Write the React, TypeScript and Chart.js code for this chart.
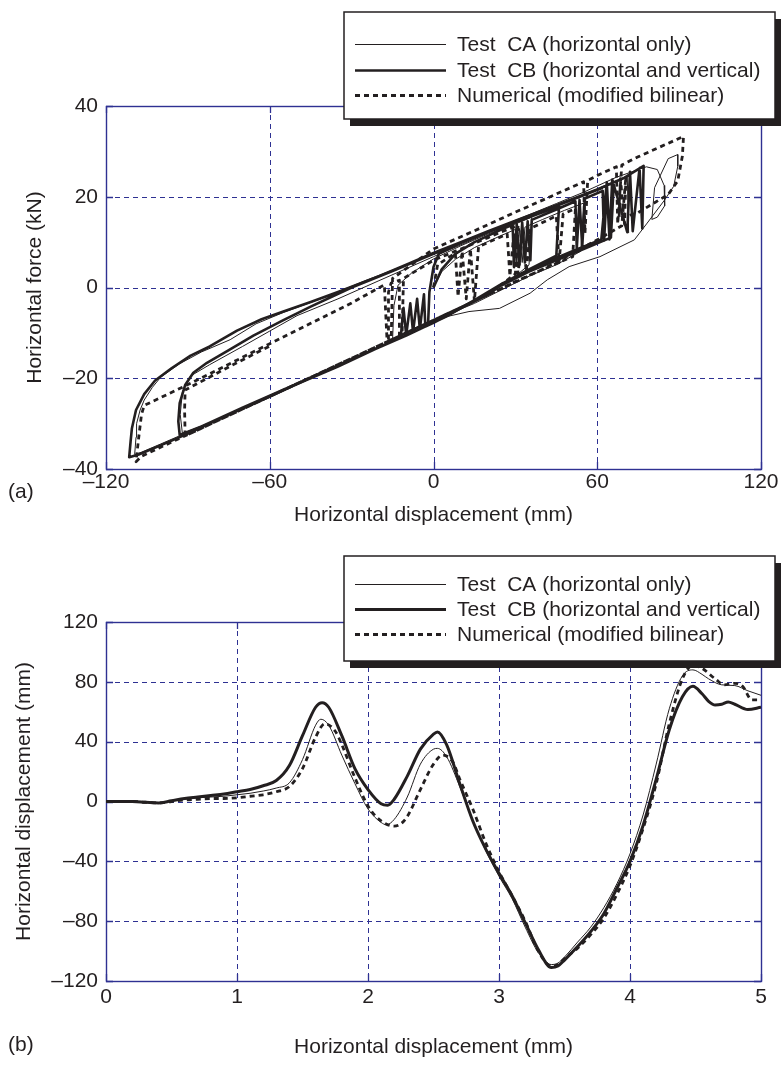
import React, { useEffect, useRef } from 'react';
import { Chart, registerables } from 'chart.js';

Chart.register(...registerables);

const FONT_FAMILY = '"Liberation Sans", Arial, Helvetica, sans-serif';
const INK = '#231f20';
const GRID_BLUE = '#2e3192';

const seriesLabels = [
  'Test  CA (horizontal only)',
  'Test  CB (horizontal and vertical)',
  'Numerical (modified bilinear)',
];

// ---------- Panel (a): force vs displacement ----------
const hystXTicks = [-120, -60, 0, 60, 120];
const hystYTicks = [-40, -20, 0, 20, 40];
const hystXTitle = 'Horizontal displacement (mm)';
const hystYTitle = 'Horizontal force (kN)';

const caHystPath: [number, number][] = [
  [0, 0], [3, 3.5], [8, 6.2], [15, 8.8], [25, 11.5], [30, 12.8], [30.5, 5], [31.5, 13], [32.5, 5.5], [33.5, 13.3],
  [40, 15], [48, 17], [55, 18.6],
  [54, 8], [45, 5], [35, 2.5], [25, -0.5], [15, -3.5], [5, -6], [-5, -9], [-12, -11], [-15, -11.6],
  [-14.5, -4], [-13, 0.5], [-8, 3.2], [0, 6.3], [10, 9.2], [20, 11.8], [30, 14], [36, 15.5],
  [35, 5], [30, 2.5], [20, -1.5], [10, -4.8], [0, -7.8], [-10, -10.5], [-25, -14.5], [-40, -18.7], [-55, -22.8],
  [-70, -26.8], [-85, -30.6], [-100, -34.5], [-107, -36.3], [-109.5, -36.8],
  [-109, -33], [-108.8, -30], [-107.5, -27], [-106, -24.8], [-103, -22], [-100, -19.8], [-93, -16.8], [-85, -14.2],
  [-74.5, -11.5], [-65, -8], [-55, -5.5], [-40, -2.2], [-25, 1.5], [-10, 5], [0, 7.5], [15, 11], [30, 14.8],
  [45, 18.5], [55, 21], [67, 24.3], [78, 26.6], [82, 26], [84.5, 22.5], [84.7, 18], [82, 15.5], [80, 15],
  [81, 22], [86, 28.4], [89.5, 29.3],
  [89.5, 26.7], [88, 22.3], [84.7, 19.3], [78.3, 14.2], [73.6, 10.5], [61, 6.8], [49.7, 4.6], [41.7, 1.7],
  [35.4, -1.25], [24.2, -4.6], [13, -5.3], [5, -6.4], [-5, -9.2], [-20, -13], [-40, -18.5], [-60, -24],
  [-80, -29.3], [-92, -32.2], [-92.8, -28], [-92, -23], [-89, -19.5], [-82, -17], [-70, -13], [-60, -9.6],
  [-50, -6.2], [-35, -2.5], [-20, 1.5], [0, 6.8], [20, 12], [40, 17], [55, 20.5], [65, 23], [71, 24.5], [71.5, 12],
];

const cbHystPath: [number, number][] = [
  [0, 0], [3, 4], [8, 7.4], [15, 10], [25, 12.8], [29, 13.8], [29.5, 4.5], [30.5, 14], [31.5, 5], [32.5, 14.3],
  [33.5, 5.5], [34.5, 14.6], [35.5, 6], [36, 14.9], [45, 17.2], [52, 19], [52.5, 8.5], [53.5, 19.3], [54.5, 9],
  [55.5, 19.6], [62, 21.3], [62.5, 10.3], [63.5, 21.6], [64.5, 10.6], [66, 22.2],
  [65, 11], [55, 8.5], [45, 6], [35, 3.5], [25, 0.5], [15, -3], [5, -6], [-2, -8.3],
  [-1.5, -1], [0, 4.5], [2, 7.5], [10, 9.8], [20, 12.2], [30, 14.4], [40, 16.6], [46, 18],
  [45, 7], [35, 4], [25, 0.8], [15, -2.8], [5, -6.2], [0, -7.8], [-3, -8.6], [-3.5, -1.5], [-5, -9.2], [-6, -2.5],
  [-7.5, -9.8], [-8.5, -3.5], [-10, -10.5], [-11, -4.5], [-12, -11], [-20, -13.2], [-35, -17.4], [-50, -21.3],
  [-62, -24.6], [-75, -28], [-90, -32.2], [-100, -34.8], [-108, -36.8], [-111.5, -37.4],
  [-111, -34], [-110.5, -31], [-109, -27], [-106, -23.5], [-102, -20.5], [-96, -17.8], [-89, -15], [-82, -13],
  [-72, -9.5], [-63, -7], [-55, -5.3], [-45, -3.2], [-35, -1], [-20, 2.5], [-10, 5], [0, 7.6], [10, 10], [20, 12.4],
  [30, 14.7], [40, 17], [50, 19.3], [60, 21.6], [70, 24.2], [77, 26.8],
  [76.5, 13], [75.5, 26.3], [73, 12.4], [72, 25.5], [71, 12.2], [65.5, 23.8], [64.5, 11.2], [63.5, 23.2],
  [61.5, 10.6],
  [50, 7.8], [35, 4], [20, -1], [5, -6.3], [-10, -10.6], [-30, -15.8], [-50, -21.2], [-70, -26.5], [-85, -30.6],
  [-93, -32.5], [-93.5, -29.5], [-93, -25.5], [-91, -21.5], [-88, -18.8], [-83, -16.6], [-75, -13.8], [-66, -10.6],
  [-55, -7.2], [-45, -4.2], [-30, 0], [-15, 3.6], [0, 7.4], [20, 12.2], [40, 16.8], [62, 22],
];

const numHystPath: [number, number][] = [
  [0, 0], [1.5, 5], [8, 7.6], [9, -2], [10.5, 8], [12, -2.5], [13.5, 8.5], [15, -3], [16.5, 9],
  [27, 11.8], [28, 2.5], [29.5, 12.2], [31, 3], [32.5, 12.6], [34, 3.5], [35.5, 13],
  [45, 15.8], [46, 5.5], [47.5, 16.2], [52, 17.4],
  [51, 6.8], [40, 4], [30, 1.3], [20, -1.6], [10, -4.4], [0, -7.2], [-10, -10], [-16.5, -11.8],
  [-16.5, -1], [-15.5, 1], [-12.5, 1.6], [-12.5, -10.5], [-11.5, -10.2], [-11, 2], [0, 6], [10, 8.5], [20, 11],
  [25, 12.3], [31, 13.7],
  [30, 3], [20, -1.6], [10, -4.4], [0, -7.2], [-10, -10], [-20, -12.8], [-30, -15.6], [-40, -18.4], [-55, -22.6],
  [-70, -26.8], [-85, -31], [-100, -35.2], [-107, -37.2], [-109, -38.4],
  [-108, -33], [-107, -28], [-106, -26], [-90, -21.4], [-75, -16.9], [-60, -12.4], [-45, -7.9], [-30, -3.4],
  [-18, 0.6], [-17, -12], [-15.5, -11.5], [-15, 2], [0, 8.5], [15, 12.5], [30, 16.6], [45, 20.6], [55, 23.3],
  [55.5, 12], [56.5, 23.6], [60, 24.7], [67, 26.6], [67.5, 14], [69, 27], [75, 28.8], [91.6, 33.3],
  [91.2, 29], [89.5, 23.5], [86, 20.5], [75, 16.5], [68, 15.2], [68.5, 24], [70, 14], [70.5, 24.5], [69, 13.6],
  [60, 10.5], [40, 4], [20, -1.6], [0, -7.2], [-20, -12.8], [-40, -18.4], [-60, -24], [-80, -29.6], [-91, -32.7],
  [-91.2, -27], [-91, -22.6], [-75, -17.5], [-60, -12.9],
];

// ---------- Panel (b): displacement histories ----------
const histXTicks = [0, 1, 2, 3, 4, 5];
const histYTicks = [-120, -80, -40, 0, 40, 80, 120];
const histXTitle = 'Horizontal displacement (mm)';
const histYTitle = 'Horizontal displacement (mm)';

const caHistX = [0, 0.1, 0.2, 0.3, 0.4, 0.5, 0.6, 0.7, 0.8, 0.9, 1.0, 1.1, 1.2, 1.3, 1.4, 1.5, 1.6, 1.64, 1.7, 1.8, 1.9, 2.0, 2.1, 2.14, 2.2, 2.3, 2.4, 2.5, 2.53, 2.6, 2.7, 2.8, 2.9, 3.0, 3.1, 3.2, 3.3, 3.4, 3.45, 3.5, 3.6, 3.7, 3.8, 3.9, 4.0, 4.1, 4.2, 4.3, 4.4, 4.48, 4.55, 4.6, 4.7, 4.8, 4.9, 5.0];
const caHistY = [0, 0, 0, -0.5, -1, 0.5, 1.5, 2.5, 3, 3.5, 4.5, 5.5, 7, 9, 12.5, 28, 51, 55, 51, 31, 12, -5, -14, -15.5, -12, 3, 25, 35, 35.5, 30, 10, -13, -33, -50, -65, -84, -101, -109, -108, -104, -94, -84, -71, -55, -35, -9, 25, 62, 84, 88, 85, 82, 78, 77.5, 74, 71];

const cbHistX = [0, 0.1, 0.2, 0.3, 0.4, 0.5, 0.6, 0.7, 0.8, 0.9, 1.0, 1.1, 1.2, 1.3, 1.4, 1.5, 1.6, 1.65, 1.7, 1.8, 1.9, 2.0, 2.1, 2.15, 2.2, 2.3, 2.4, 2.5, 2.53, 2.6, 2.7, 2.8, 2.9, 3.0, 3.1, 3.2, 3.3, 3.4, 3.45, 3.5, 3.6, 3.7, 3.8, 3.9, 4.0, 4.1, 4.2, 4.3, 4.4, 4.48, 4.55, 4.6, 4.65, 4.7, 4.75, 4.8, 4.9, 5.0];
const cbHistY = [0, 0, 0, -0.5, -1, 0.5, 2, 3, 4, 5, 6.5, 8, 10.5, 14, 24, 44, 63, 66, 63, 44, 22, 8, -1.5, -2.5, 1.5, 17, 35, 45, 46.5, 38, 12, -13, -32, -48, -63, -81, -99, -111, -110, -106, -97, -87, -75, -58, -40, -16, 15, 48, 70, 77, 72, 67, 64.5, 65, 66.5, 65, 61.5, 63];

const numHistX = [0, 0.1, 0.2, 0.3, 0.4, 0.5, 0.6, 0.7, 0.8, 0.9, 1.0, 1.1, 1.2, 1.3, 1.4, 1.5, 1.6, 1.67, 1.75, 1.8, 1.9, 2.0, 2.1, 2.2, 2.25, 2.3, 2.4, 2.5, 2.57, 2.65, 2.7, 2.8, 2.9, 3.0, 3.1, 3.2, 3.3, 3.4, 3.45, 3.5, 3.6, 3.7, 3.8, 3.9, 4.0, 4.1, 4.2, 4.3, 4.4, 4.48, 4.55, 4.65, 4.72, 4.8, 4.86, 4.93, 4.97];
const numHistY = [0, 0, 0, -0.5, -1, 0, 1, 1.5, 2, 2, 2.5, 3.5, 4.5, 6.5, 10, 22, 43, 52, 47, 38, 16, -3, -13, -16.5, -15, -10, 8, 25, 31, 26, 15, -5, -28, -47, -63, -80, -100, -110, -109, -105, -98, -89, -78, -62, -43, -18, 12, 52, 82, 91, 89, 82, 78, 79, 77, 68, 68];

// ---------- helpers ----------
const tickText = (v: number) => (v < 0 ? '\u2013' + Math.abs(v) : String(v));
const fromPath = (p: [number, number][]) => p.map(([x, y]) => ({ x, y }));
const fromXY = (xs: number[], ys: number[]) => xs.map((x, i) => ({ x, y: ys[i] }));

const framePlugin = {
  id: 'paperFrame',
  beforeDatasetsDraw(chart: any) {
    const { ctx, chartArea } = chart;
    const { left, right, top, bottom } = chartArea;
    const xs = chart.scales.x;
    const ys = chart.scales.y;
    ctx.save();
    ctx.strokeStyle = GRID_BLUE;
    ctx.lineWidth = 1;
    ctx.setLineDash([5, 4]);
    ctx.beginPath();
    xs.ticks.forEach((t: any) => {
      const px = Math.round(xs.getPixelForValue(t.value)) + 0.5;
      if (px > left + 2 && px < right - 2) {
        ctx.moveTo(px, top);
        ctx.lineTo(px, bottom);
      }
    });
    ys.ticks.forEach((t: any) => {
      const py = Math.round(ys.getPixelForValue(t.value)) + 0.5;
      if (py > top + 2 && py < bottom - 2) {
        ctx.moveTo(left, py);
        ctx.lineTo(right, py);
      }
    });
    ctx.stroke();
    ctx.setLineDash([]);
    ctx.lineWidth = 1.3;
    ctx.beginPath();
    const tl = 7;
    xs.ticks.forEach((t: any) => {
      const px = Math.round(xs.getPixelForValue(t.value)) + 0.5;
      ctx.moveTo(px, bottom);
      ctx.lineTo(px, bottom - tl);
      ctx.moveTo(px, top);
      ctx.lineTo(px, top + tl);
    });
    ys.ticks.forEach((t: any) => {
      const py = Math.round(ys.getPixelForValue(t.value)) + 0.5;
      ctx.moveTo(left, py);
      ctx.lineTo(left + tl, py);
      ctx.moveTo(right, py);
      ctx.lineTo(right - tl, py);
    });
    ctx.stroke();
    ctx.lineWidth = 1.4;
    ctx.strokeRect(Math.round(left) + 0.5, Math.round(top) + 0.5, Math.round(right - left), Math.round(bottom - top));
    ctx.restore();
  },
};

const legendPlugin = {
  id: 'paperLegend',
  afterDraw(chart: any, _args: any, opts: any) {
    const { ctx } = chart;
    const { left, top, width, height, rows, sampleStart, sampleEnd, textStart } = opts;
    ctx.save();
    ctx.fillStyle = INK;
    ctx.fillRect(left + 6, top + 7, width, height);
    ctx.fillStyle = '#ffffff';
    ctx.fillRect(left, top, width, height);
    ctx.strokeStyle = INK;
    ctx.lineWidth = 1.5;
    ctx.strokeRect(left, top, width, height);
    chart.data.datasets.forEach((ds: any, i: number) => {
      const y = Math.round(top + rows[i]) + 0.5;
      ctx.beginPath();
      ctx.setLineDash(ds.borderDash || []);
      ctx.lineWidth = ds.borderWidth;
      ctx.strokeStyle = ds.borderColor;
      ctx.moveTo(sampleStart, y);
      ctx.lineTo(sampleEnd, y);
      ctx.stroke();
      ctx.setLineDash([]);
      ctx.fillStyle = INK;
      ctx.font = `21px ${FONT_FAMILY}`;
      ctx.textAlign = 'left';
      ctx.textBaseline = 'middle';
      ctx.fillText(ds.label, textStart, y + 1);
    });
    ctx.restore();
  },
};

const panelTagPlugin = {
  id: 'panelTag',
  afterDraw(chart: any, _args: any, opts: any) {
    const { ctx } = chart;
    ctx.save();
    ctx.fillStyle = INK;
    ctx.font = `21px ${FONT_FAMILY}`;
    ctx.textAlign = 'left';
    ctx.textBaseline = 'middle';
    ctx.fillText(opts.text, opts.x, opts.y);
    ctx.restore();
  },
};

interface PanelSpec {
  ca: { x: number; y: number }[];
  cb: { x: number; y: number }[];
  num: { x: number; y: number }[];
  smooth: boolean;
  xTicks: number[];
  yTicks: number[];
  xTitle: string;
  yTitle: string;
  canvasHeight: number;
  plotTop: number;
  plotBottom: number;
  xTickPad: number;
  xTitlePad: number;
  yTitlePad: number;
  legendTop: number;
  legendHeight: number;
  legendRows: number[];
  tag: string;
  tagY: number;
  cbWidth: number;
}

function buildConfig(p: PanelSpec): any {
  const font = { family: FONT_FAMILY, size: 21 };
  const lineOpts = p.smooth ? { cubicInterpolationMode: 'monotone' } : { tension: 0 };
  const common = {
    showLine: true,
    pointRadius: 0,
    pointHoverRadius: 0,
    borderColor: INK,
    backgroundColor: INK,
    fill: false,
    borderJoinStyle: 'round',
    ...lineOpts,
  };
  return {
    type: 'scatter',
    data: {
      datasets: [
        { ...common, label: seriesLabels[0], data: p.ca, borderWidth: 1, order: 1 },
        { ...common, label: seriesLabels[1], data: p.cb, borderWidth: p.cbWidth, order: 0 },
        { ...common, label: seriesLabels[2], data: p.num, borderWidth: 2.8, borderDash: [5, 4], order: 2 },
      ],
    },
    options: {
      responsive: false,
      maintainAspectRatio: false,
      devicePixelRatio: 1,
      animation: false,
      events: [],
      layout: { padding: { left: 0, top: p.plotTop, right: 21, bottom: 0 } },
      scales: {
        x: {
          type: 'linear',
          min: p.xTicks[0],
          max: p.xTicks[p.xTicks.length - 1],
          afterBuildTicks: (s: any) => {
            s.ticks = p.xTicks.map((v) => ({ value: v }));
          },
          afterFit: (s: any) => {
            s.height = p.canvasHeight - p.plotBottom;
          },
          grid: { display: false, drawTicks: false },
          border: { display: false },
          ticks: {
            color: INK,
            font,
            padding: p.xTickPad,
            maxRotation: 0,
            autoSkip: false,
            callback: (v: any) => tickText(Number(v)),
          },
          title: {
            display: true,
            text: p.xTitle,
            color: INK,
            font,
            padding: { top: 0, bottom: p.xTitlePad },
          },
        },
        y: {
          type: 'linear',
          min: p.yTicks[0],
          max: p.yTicks[p.yTicks.length - 1],
          afterBuildTicks: (s: any) => {
            s.ticks = p.yTicks.map((v) => ({ value: v }));
          },
          afterFit: (s: any) => {
            s.width = 106;
          },
          grid: { display: false, drawTicks: false },
          border: { display: false },
          ticks: {
            color: INK,
            font,
            padding: 8,
            autoSkip: false,
            callback: (v: any) => tickText(Number(v)),
          },
          title: {
            display: true,
            text: p.yTitle,
            color: INK,
            font,
            padding: { top: p.yTitlePad, bottom: 0 },
          },
        },
      },
      plugins: {
        legend: { display: false },
        tooltip: { enabled: false },
        paperLegend: {
          left: 344,
          top: p.legendTop,
          width: 431,
          height: p.legendHeight,
          rows: p.legendRows,
          sampleStart: 355,
          sampleEnd: 446,
          textStart: 457,
        },
        panelTag: { text: p.tag, x: 8, y: p.tagY },
      },
    },
    plugins: [framePlugin, legendPlugin, panelTagPlugin],
  };
}

const TOP_H = 545;
const BOTTOM_H = 1067 - TOP_H;

export default function App() {
  const refA = useRef<HTMLCanvasElement>(null);
  const refB = useRef<HTMLCanvasElement>(null);

  useEffect(() => {
    const chartA = new Chart(
      refA.current as HTMLCanvasElement,
      buildConfig({
        ca: fromPath(caHystPath),
        cb: fromPath(cbHystPath),
        num: fromPath(numHystPath),
        smooth: false,
        xTicks: hystXTicks,
        yTicks: hystYTicks,
        xTitle: hystXTitle,
        yTitle: hystYTitle,
        canvasHeight: TOP_H,
        plotTop: 106,
        plotBottom: 469,
        xTickPad: 1,
        xTitlePad: 17,
        yTitlePad: 23,
        legendTop: 12,
        legendHeight: 107,
        legendRows: [32, 58, 83],
        tag: '(a)',
        tagY: 492,
        cbWidth: 2.6,
      })
    );
    const chartB = new Chart(
      refB.current as HTMLCanvasElement,
      buildConfig({
        ca: fromXY(caHistX, caHistY),
        cb: fromXY(cbHistX, cbHistY),
        num: fromXY(numHistX, numHistY),
        smooth: true,
        xTicks: histXTicks,
        yTicks: histYTicks,
        xTitle: histXTitle,
        yTitle: histYTitle,
        canvasHeight: BOTTOM_H,
        plotTop: 622 - TOP_H,
        plotBottom: 981 - TOP_H,
        xTickPad: 4,
        xTitlePad: 7,
        yTitlePad: 12,
        legendTop: 556 - TOP_H,
        legendHeight: 105,
        legendRows: [28, 53, 78],
        tag: '(b)',
        tagY: 1045 - TOP_H,
        cbWidth: 3,
      })
    );
    return () => {
      chartA.destroy();
      chartB.destroy();
    };
  }, []);

  return (
    <div style={{ position: 'absolute', left: 0, top: 0, width: 782, height: 1067, background: '#ffffff' }}>
      <canvas
        ref={refA}
        width={782}
        height={TOP_H}
        style={{ position: 'absolute', left: 0, top: 0, width: 782, height: TOP_H }}
      />
      <canvas
        ref={refB}
        width={782}
        height={BOTTOM_H}
        style={{ position: 'absolute', left: 0, top: TOP_H, width: 782, height: BOTTOM_H }}
      />
    </div>
  );
}
